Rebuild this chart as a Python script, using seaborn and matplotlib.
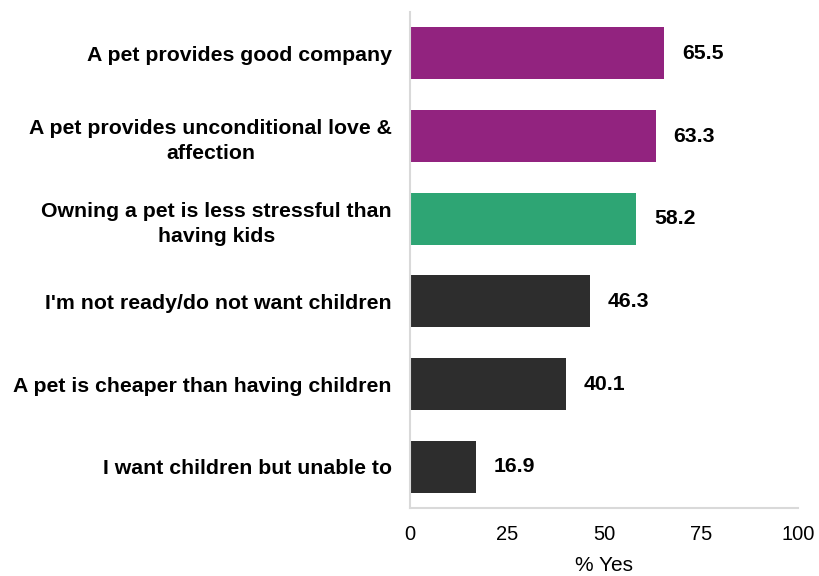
import pandas as pd
import matplotlib.pyplot as plt
import seaborn as sns

reasons = [
    "A pet provides good company",
    "A pet provides unconditional love &\naffection",
    "Owning a pet is less stressful than\nhaving kids",
    "I'm not ready/do not want children",
    "A pet is cheaper than having children",
    "I want children but unable to",
]
pct_yes = [65.5, 63.3, 58.2, 46.3, 40.1, 16.9]
bar_colors = ["#92237F", "#92237F", "#2EA574", "#2D2D2D", "#2D2D2D", "#2D2D2D"]

df = pd.DataFrame({"reason": reasons, "pct": pct_yes})

sns.set_style("white")
plt.rcParams["font.family"] = ["Liberation Sans", "DejaVu Sans"]
plt.rcParams["text.color"] = "black"
plt.rcParams["xtick.labelcolor"] = "black"
plt.rcParams["ytick.labelcolor"] = "black"
plt.rcParams["axes.labelcolor"] = "black"

fig = plt.figure(figsize=(8.19, 5.76), dpi=100)
ax = fig.add_axes([410 / 819, 1 - 508 / 576, 388 / 819, 496 / 576])

sns.barplot(data=df, x="pct", y="reason", hue="reason", palette=bar_colors,
            legend=False, width=0.63, saturation=1, linewidth=0, ax=ax)

for c in ax.containers:
    ax.bar_label(c, fmt="%.1f", padding=13, fontsize=15.3, fontweight="bold",
                 color="black")

ax.set_xlim(0, 100)
ax.set_ylim(5.5, -0.5)
ax.set_xticks([0, 25, 50, 75, 100])
ax.set_xlabel("% Yes", fontsize=15, labelpad=9)
ax.set_ylabel("")

ax.tick_params(axis="x", length=4, width=1.2, color="#D0D0D0", labelsize=14.5, pad=8)
ax.tick_params(axis="y", length=0, pad=13, labelsize=15.3)
for lbl in ax.get_yticklabels():
    lbl.set_fontweight("bold")
    lbl.set_multialignment("center")
    lbl.set_linespacing(1.4)

sns.despine(ax=ax)
for s in ["left", "bottom"]:
    ax.spines[s].set_color("#D9D9D9")
    ax.spines[s].set_linewidth(1.5)

fig.savefig("out.png", dpi=100)
